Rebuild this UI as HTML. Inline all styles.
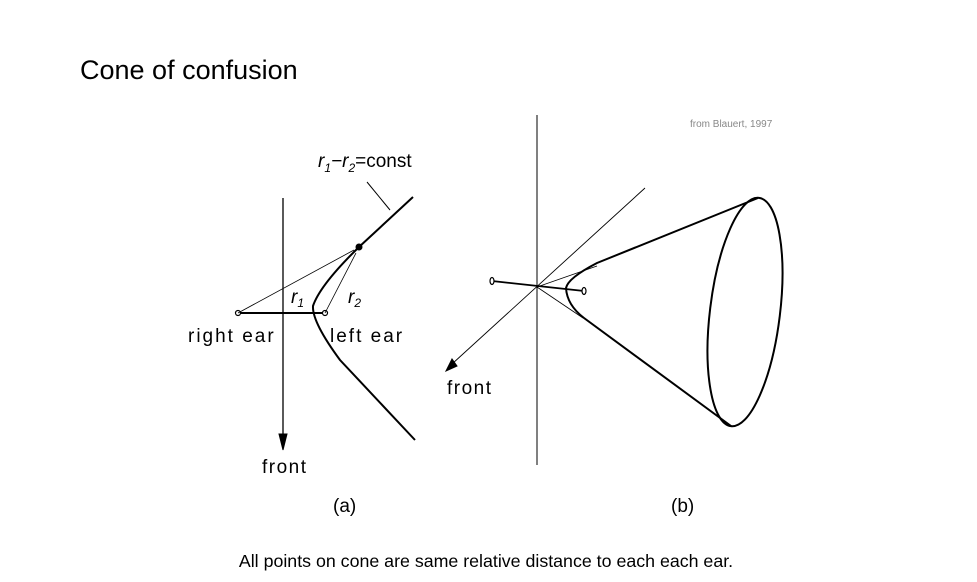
<!DOCTYPE html>
<html><head><meta charset="utf-8"><style>
body{margin:0;background:#fff;width:977px;height:582px;overflow:hidden;font-family:"Liberation Sans",sans-serif}
svg{position:absolute;left:0;top:0}
</style></head><body>
<svg width="977" height="582">
<text x="80" y="79" font-size="27" fill="#000">Cone of confusion</text>
<text x="690" y="127" font-size="10" fill="#888">from Blauert, 1997</text>
<g stroke="#000" fill="none">
 <line x1="283" y1="198" x2="283" y2="440" stroke-width="1.3"/>
 <polygon points="279,434 287,434 283,450" fill="#000"/>
 <line x1="238" y1="313" x2="325" y2="313" stroke-width="2"/>
 <circle cx="238" cy="313" r="2.5" fill="#fff" stroke-width="1.2"/>
 <circle cx="325" cy="313" r="2.5" fill="#fff" stroke-width="1.2"/>
 <path d="M413,197 L359,247 Q320,285 313,306 Q312,322 340,360 L415,440" stroke-width="2"/>
 <circle cx="359" cy="247" r="3" fill="#000"/>
 <line x1="238" y1="313" x2="354" y2="250" stroke-width="0.8"/>
 <line x1="325" y1="313" x2="356" y2="253" stroke-width="0.8"/>
 <line x1="367" y1="182" x2="390" y2="210" stroke-width="1"/>
</g>
<g font-size="19" fill="#000">
 <text x="318" y="167" font-style="italic">r<tspan font-size="12" dy="5">1</tspan><tspan dy="-5">−</tspan><tspan>r</tspan><tspan font-size="12" dy="5">2</tspan><tspan dy="-5" font-style="normal">=const</tspan></text>
 <text x="291" y="303" font-style="italic">r<tspan font-size="12" dy="4">1</tspan></text>
 <text x="348" y="303" font-style="italic">r<tspan font-size="12" dy="4">2</tspan></text>
 <text x="188" y="342" letter-spacing="2">right ear</text>
 <text x="330" y="342" letter-spacing="2">left ear</text>
 <text x="262" y="473" letter-spacing="1.5">front</text>
 <text x="333" y="512">(a)</text>
</g>
<g stroke="#000" fill="none">
 <line x1="537" y1="115" x2="537" y2="465" stroke-width="1"/>
 <line x1="645" y1="188" x2="452" y2="364" stroke-width="0.9"/>
 <polygon points="446,371 452,359 457,366" fill="#000"/>
 <line x1="492" y1="281" x2="584" y2="291" stroke-width="1.8"/>
 <ellipse cx="492" cy="281" rx="2" ry="3.5" stroke-width="1.2" fill="#fff"/>
 <ellipse cx="584" cy="291" rx="2" ry="3.5" stroke-width="1.2" fill="#fff"/>
 <line x1="537" y1="287" x2="597" y2="266" stroke-width="0.8"/>
 <line x1="537" y1="287" x2="583" y2="318" stroke-width="0.8"/>
 <path d="M758,198 L597,263 Q568,278 566,288 Q567,305 584,318 L731,426" stroke-width="2"/>
 <ellipse cx="745" cy="312" rx="35" ry="115" transform="rotate(7 745 312)" stroke-width="2"/>
</g>
<g font-size="19" fill="#000">
 <text x="447" y="394" letter-spacing="1.5">front</text>
 <text x="671" y="512">(b)</text>
</g>
<text x="486" y="567" font-size="17.8" text-anchor="middle" fill="#000">All points on cone are same relative distance to each each ear.</text>
</svg>
</body></html>
